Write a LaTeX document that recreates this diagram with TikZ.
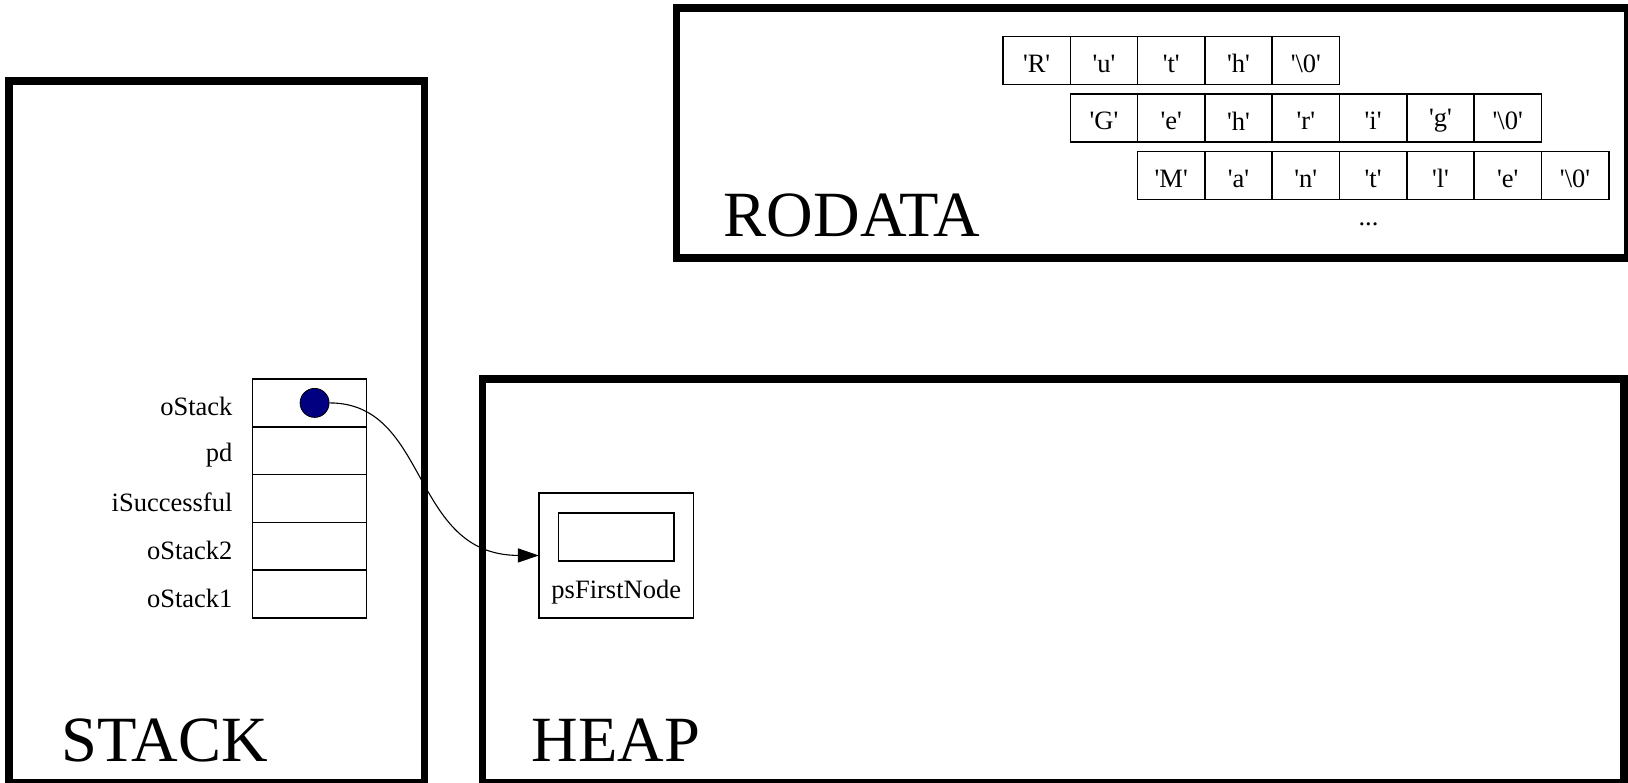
\documentclass[tikz,border=0pt]{standalone}
\usepackage{fontspec}
\setmainfont{Liberation Serif}
\usetikzlibrary{arrows.meta}
\definecolor{dotblue}{RGB}{0,0,128}
\newcommand{\chq}[1]{\textquotesingle#1\textquotesingle}
\begin{document}
\begin{tikzpicture}[x=1pt,y=-1pt,
  region/.style={draw, line width=7.5pt, inner sep=0, outer sep=0},
  regionlabel/.style={font=\fontsize{64.5}{72}\selectfont, anchor=base west, inner sep=0},
  cell/.style={draw, line width=1.6pt, minimum width=114.2pt, minimum height=47.8pt, inner sep=0, outer sep=0},
  chr/.style={draw, line width=1.6pt, minimum width=67.3pt, minimum height=48pt, inner sep=0, outer sep=0},
  chrtext/.style={inner sep=0, font=\fontsize{26.5}{30}\selectfont, yshift=-3pt},
  varlabel/.style={anchor=east, inner sep=0, font=\fontsize{26.5}{30}\selectfont, yshift=-4pt},
  smalltext/.style={inner sep=0, font=\fontsize{26.5}{30}\selectfont},
  ptr/.style={line width=1.1pt, -{Triangle[length=21pt,width=14pt]}},
  ]
\useasboundingbox (0,0) rectangle (1628,782);
% regions
\node[region, minimum width=415.5pt, minimum height=702pt] (stackbox) at (216.75,432) {};
\node[region, minimum width=1141.5pt, minimum height=404pt] (heapbox) at (1053.25,581) {};
\node[region, minimum width=951.5pt, minimum height=250pt] (rodatabox) at (1152.25,133) {};
\node[regionlabel] (stacklbl) at (61.3,761) {STACK};
\node[regionlabel] (heaplbl) at (531.6,761) {HEAP};
\node[regionlabel] (rodatalbl) at (723.7,236.7) {RODATA};
% stack cells
\foreach \n/\lab [count=\i from 0] in {s1/oStack, s2/pd, s3/iSuccessful, s4/oStack2, s5/oStack1}{
  \node[cell] (\n) at (309.4, 402.9+47.8*\i) {};
  \node[varlabel] (\n lab) at (232.6, 402.9+47.8*\i) {\lab};
}
% heap node
\node[draw, line width=1.6pt, minimum width=154.7pt, minimum height=124.6pt, inner sep=0, outer sep=0] (psn) at (616.25,555.5) {};
\node[draw, line width=1.6pt, minimum width=115.3pt, minimum height=47.7pt, inner sep=0] (psninner) at (616.25,536.85) {};
\node[smalltext] (psnlab) at (616.25,592) {psFirstNode};
% rodata strings
\foreach \c [count=\i from 0] in {R,u,t,h,\textbackslash0}{
  \node[chr] (a\i) at (1003+33.65+67.3*\i, 60.5) {};
  \node[chrtext] (a\i t) at (a\i.center) {\chq{\c}};
}
\foreach \c [count=\i from 0] in {G,e,h,r,i,g,\textbackslash0}{
  \node[chr] (b\i) at (1070.3+33.65+67.3*\i, 118) {};
  \node[chrtext] (b\i t) at (b\i.center) {\chq{\c}};
}
\foreach \c [count=\i from 0] in {M,a,n,t,l,e,\textbackslash0}{
  \node[chr] (c\i) at (1137.6+33.65+67.3*\i, 175.5) {};
  \node[chrtext] (c\i t) at (c\i.center) {\chq{\c}};
}
\node[smalltext] (dots) at (1368.5,224) {...};
% pointer
\node[circle, draw, line width=0.8pt, fill=dotblue, minimum size=29pt, inner sep=0] (dot) at (314.6,402.9) {};
\draw[ptr] (dot.east) .. controls (430,403) and (410,555) .. (psn.west);
\end{tikzpicture}
\end{document}
